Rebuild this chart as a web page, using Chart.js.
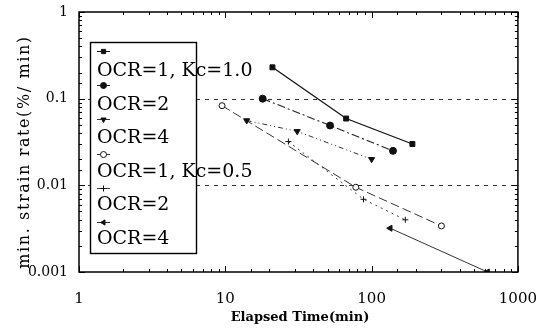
<!DOCTYPE html>
<html>
<head>
<meta charset="utf-8">
<script src="https://cdn.jsdelivr.net/npm/chart.js@4/dist/chart.umd.min.js"></script>
<style>
  html, body { margin: 0; padding: 0; background: #fff; }
  #wrap { width: 547px; height: 330px; }
</style>
</head>
<body>
<div id="wrap"><canvas id="IDCHART"></canvas></div>
<script>
// ==== data (x: elapsed time in min, y: min. strain rate %/min)
var labelsSeries = ["OCR=1, Kc=1.0", "OCR=2", "OCR=4", "OCR=1, Kc=0.5", "OCR=2", "OCR=4"];

var timeOcr1Kc10 = [21, 67, 190];
var rateOcr1Kc10 = [0.23, 0.059, 0.03];

var timeOcr2Kc10 = [18, 52, 140];
var rateOcr2Kc10 = [0.1, 0.049, 0.025];

var timeOcr4Kc10 = [14, 31, 100];
var rateOcr4Kc10 = [0.056, 0.042, 0.02];

var timeOcr1Kc05 = [9.5, 78, 300];
var rateOcr1Kc05 = [0.083, 0.0095, 0.0034];

var timeOcr2Kc05 = [27, 88, 170];
var rateOcr2Kc05 = [0.032, 0.0069, 0.004];

var timeOcr4Kc05 = [134, 620];
var rateOcr4Kc05 = [0.0032, 0.001];

var xTicksMajor = [1, 10, 100, 1000];
var yTicksMajor = [0.001, 0.01, 0.1, 1];
var dashedRates = [0.1, 0.01];

var SERIF = "'DejaVu Serif', 'Liberation Serif', serif";

function toPoints(xs, ys) {
    var pts = [];
    for (var i = 0; i < xs.length; i++) {
        pts.push({ x: xs[i], y: ys[i] });
    }
    return pts;
}

function isMajor(v) {
    var l = Math.log10(v);
    return Math.abs(l - Math.round(l)) < 1e-6;
}

// styles per series (line + marker)
var seriesStyle = [
    { color: "#111", dash: [],              width: 1.3, style: "rect",     rot: 0,   radius: 3.5, fill: "#111" },
    { color: "#222", dash: [8, 3, 2, 3],    width: 1.1, style: "circle",   rot: 0,   radius: 3.5, fill: "#111" },
    { color: "#333", dash: [5, 3, 1, 3, 1, 3], width: 1, style: "triangle", rot: 180, radius: 3.5, fill: "#111" },
    { color: "#333", dash: [9, 4],          width: 1,   style: "circle",   rot: 0,   radius: 3,   fill: "#fff" },
    { color: "#444", dash: [2, 4],          width: 1,   style: "cross",    rot: 0,   radius: 3,   fill: "#fff" },
    { color: "#333", dash: [],              width: 1,   style: "triangle", rot: 270, radius: 3.5, fill: "#111" }
];

var seriesData = [
    toPoints(timeOcr1Kc10, rateOcr1Kc10),
    toPoints(timeOcr2Kc10, rateOcr2Kc10),
    toPoints(timeOcr4Kc10, rateOcr4Kc10),
    toPoints(timeOcr1Kc05, rateOcr1Kc05),
    toPoints(timeOcr2Kc05, rateOcr2Kc05),
    toPoints(timeOcr4Kc05, rateOcr4Kc05)
];

var datasets = [];
for (var i = 0; i < seriesData.length; i++) {
    var s = seriesStyle[i];
    datasets.push({
        label: labelsSeries[i],
        data: seriesData[i],
        showLine: true,
        borderColor: s.color,
        borderWidth: s.width,
        borderDash: s.dash,
        pointStyle: s.style,
        pointRotation: s.rot,
        pointRadius: s.radius,
        pointBackgroundColor: s.fill,
        pointBorderColor: "#111",
        pointBorderWidth: 1,
        fill: false,
        tension: 0
    });
}

// frame, dashed reference lines, inward ticks, axis titles, boxed legend
var framePlugin = {
    id: "frame",
    beforeDatasetsDraw: function (chart) {
        var ctx = chart.ctx, a = chart.chartArea, ys = chart.scales.y;
        ctx.save();
        ctx.strokeStyle = "#333";
        ctx.lineWidth = 1;
        ctx.setLineDash([4, 5]);
        dashedRates.forEach(function (v) {
            var py = Math.round(ys.getPixelForValue(v)) + 0.5;
            ctx.beginPath();
            ctx.moveTo(a.left, py);
            ctx.lineTo(a.right, py);
            ctx.stroke();
        });
        ctx.restore();
    },
    afterDatasetsDraw: function (chart) {
        var ctx = chart.ctx, a = chart.chartArea;
        var xs = chart.scales.x, ys = chart.scales.y;
        ctx.save();
        ctx.strokeStyle = "#000";
        ctx.lineWidth = 1.5;
        ctx.setLineDash([]);
        ctx.strokeRect(a.left, a.top, a.right - a.left, a.bottom - a.top);

        ctx.lineWidth = 1;
        ys.ticks.forEach(function (t) {
            var py = Math.round(ys.getPixelForValue(t.value)) + 0.5;
            var len = isMajor(t.value) ? 6 : 3;
            ctx.beginPath();
            ctx.moveTo(a.left, py); ctx.lineTo(a.left + len, py);
            ctx.moveTo(a.right, py); ctx.lineTo(a.right - len, py);
            ctx.stroke();
        });
        xs.ticks.forEach(function (t) {
            var px = Math.round(xs.getPixelForValue(t.value)) + 0.5;
            var len = isMajor(t.value) ? 6 : 3;
            ctx.beginPath();
            ctx.moveTo(px, a.bottom); ctx.lineTo(px, a.bottom - len);
            ctx.moveTo(px, a.top); ctx.lineTo(px, a.top + len);
            ctx.stroke();
        });

        // axis titles
        ctx.fillStyle = "#000";
        ctx.textAlign = "center";
        ctx.textBaseline = "middle";
        ctx.font = "bold 13px " + SERIF;
        ctx.fillText("Elapsed Time(min)", 300, 318);

        ctx.save();
        ctx.translate(25, 152);
        ctx.rotate(-Math.PI / 2);
        ctx.font = "16px " + SERIF;
        ctx.letterSpacing = "1.6px";
        ctx.fillText("min. strain rate(%/ min)", 0, 0);
        ctx.restore();

        // legend box
        var lx = 90, ly = 42, lw = 106, lh = 211;
        ctx.fillStyle = "#fff";
        ctx.fillRect(lx, ly, lw, lh);
        ctx.strokeStyle = "#000";
        ctx.lineWidth = 1.4;
        ctx.strokeRect(lx + 0.5, ly + 0.5, lw, lh);

        ctx.font = "19px " + SERIF;
        ctx.textBaseline = "middle";
        ctx.textAlign = "left";
        for (var k = 0; k < chart.data.datasets.length; k++) {
            var ds = chart.data.datasets[k];
            var my = Math.round(51 + k * 34.2) + 0.5;
            var ty = 71 + k * 33.6;
            ctx.strokeStyle = ds.borderColor;
            ctx.lineWidth = 1;
            ctx.setLineDash([]);
            ctx.beginPath();
            ctx.moveTo(97, my);
            ctx.lineTo(110, my);
            ctx.stroke();
            ctx.fillStyle = ds.pointBackgroundColor;
            ctx.strokeStyle = "#111";
            Chart.helpers.drawPoint(ctx, {
                pointStyle: ds.pointStyle,
                rotation: ds.pointRotation,
                radius: 3,
                borderWidth: 1
            }, 103.5, my);
            ctx.fillStyle = "#000";
            ctx.fillText(ds.label, 97, ty);
        }
        ctx.restore();
    }
};

new Chart(document.getElementById("IDCHART"), {
    type: "scatter",
    data: { datasets: datasets },
    options: {
        responsive: true,
        maintainAspectRatio: false,
        animation: false,
        layout: { padding: { top: 12, right: 29, left: 0, bottom: 0 } },
        plugins: {
            legend: { display: false },
            tooltip: { enabled: false }
        },
        scales: {
            x: {
                type: "logarithmic",
                min: 1,
                max: 1000,
                grid: { display: false },
                border: { display: false },
                ticks: {
                    autoSkip: false,
                    maxRotation: 0,
                    padding: 10,
                    color: "#000",
                    font: { family: SERIF, size: 15 },
                    callback: function (v) {
                        return xTicksMajor.indexOf(v) >= 0 ? String(v) : "";
                    }
                },
                afterFit: function (scale) { scale.height = 58; }
            },
            y: {
                type: "logarithmic",
                min: 0.001,
                max: 1,
                grid: { display: false },
                border: { display: false },
                ticks: {
                    autoSkip: false,
                    padding: 3,
                    color: "#000",
                    font: { family: SERIF, size: 14 },
                    callback: function (v) {
                        return yTicksMajor.indexOf(v) >= 0 ? String(v) : "";
                    }
                },
                afterFit: function (scale) { scale.width = 79; }
            }
        }
    },
    plugins: [framePlugin]
});
</script>
</body>
</html>
